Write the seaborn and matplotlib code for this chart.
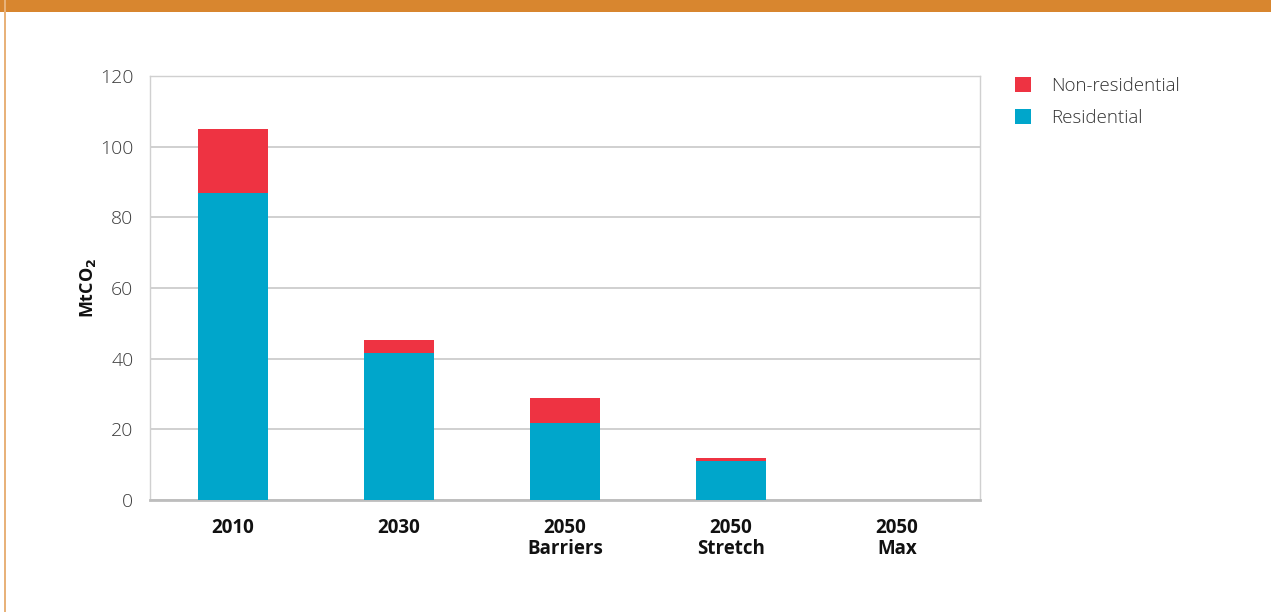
import matplotlib
matplotlib.use("Agg")
import matplotlib.pyplot as plt
from matplotlib.patches import Patch, Rectangle
import seaborn as sns
import pandas as pd

# Emissions by building type, MtCO2
scenarios = ["2010", "2030", "2050\nBarriers", "2050\nStretch", "2050\nMax"]
residential = [87.0, 41.6, 21.8, 10.9, 0.0]
non_residential = [18.0, 3.7, 7.1, 1.0, 0.0]
y_ticks = [0, 20, 40, 60, 80, 100, 120]

RED = "#EE3342"
BLUE = "#00A6CB"
GRID = "#c4c4c4"
ORANGE = "#D8862F"

sns.set_theme(style="white")
plt.rcParams["font.family"] = ["Open Sans", "DejaVu Sans"]

df = pd.DataFrame({
    "scenario": scenarios,
    "residential": residential,
    "total": [r + n for r, n in zip(residential, non_residential)],
})

fig = plt.figure(figsize=(12.71, 6.12), dpi=100)
ax = fig.add_axes([150 / 1271, 112 / 612, 830 / 1271, 424 / 612])

# Stacked bars: full total in red, residential share drawn over it in blue
sns.barplot(data=df, x="scenario", y="total", color=RED, width=0.42,
            saturation=1, linewidth=0, ax=ax, zorder=3)
sns.barplot(data=df, x="scenario", y="residential", color=BLUE, width=0.42,
            saturation=1, linewidth=0, ax=ax, zorder=4)

ax.set_xlim(-0.5, len(scenarios) - 0.5)
ax.set_ylim(0, 120)
ax.set_yticks(y_ticks)
ax.set_yticklabels([str(t) for t in y_ticks], fontsize=14, color="#3c3c3c",
                   fontweight="light")
ax.set_xticks(range(len(scenarios)))
ax.set_xticklabels(scenarios, fontsize=13.5, fontweight="bold", color="#111111",
                   linespacing=1.05)
ax.tick_params(axis="x", length=0, pad=13)
ax.tick_params(axis="y", length=0, pad=12)
ax.set_xlabel("")
ax.set_ylabel(r"MtCO$_\mathbf{2}$", fontsize=13, fontweight="bold",
              color="#111111", labelpad=1)

ax.yaxis.grid(True, color=GRID, linewidth=1.1, zorder=0)
ax.set_axisbelow(True)
for side in ["left", "right", "top"]:
    ax.spines[side].set_color("#d0d0d0")
    ax.spines[side].set_linewidth(1.0)
ax.spines["bottom"].set_color("#bdbdbd")
ax.spines["bottom"].set_linewidth(2.0)

handles = [Patch(facecolor=RED, edgecolor="none", label="Non-residential"),
           Patch(facecolor=BLUE, edgecolor="none", label="Residential")]
fig.legend(handles=handles, loc="upper left", bbox_to_anchor=(998 / 1271, 1 - 60 / 612),
           frameon=False, handlelength=0.85, handleheight=0.85,
           handletextpad=1.1, labelspacing=0.75, labelcolor="#333333",
           prop={"weight": "light", "size": 13.5})

# Framing: orange header band and left border line
fig.patches.append(Rectangle((0, 1 - 12 / 612), 1, 12 / 612, transform=fig.transFigure,
                             facecolor=ORANGE, edgecolor="none", zorder=0))
fig.patches.append(Rectangle((4 / 1271, 0), 1.5 / 1271, 1, transform=fig.transFigure,
                             facecolor="#E8B27A", edgecolor="none", zorder=0))

fig.savefig("out.png", dpi=100)
